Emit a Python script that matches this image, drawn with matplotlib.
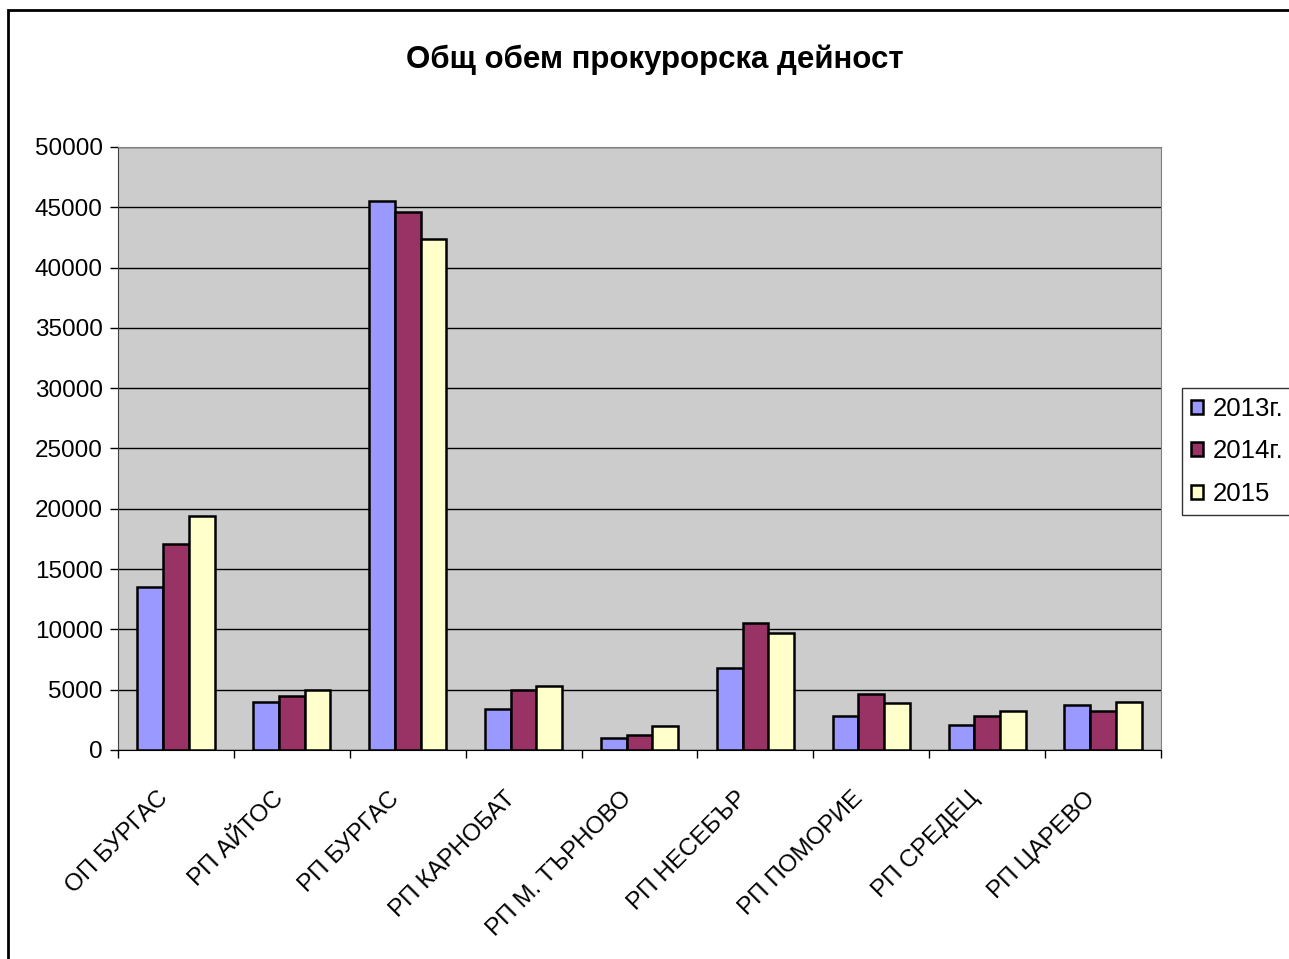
import numpy as np
import matplotlib
matplotlib.use('Agg')
import matplotlib.pyplot as plt
from matplotlib import rcParams
from matplotlib.patches import Rectangle

rcParams['font.family'] = ['Liberation Sans', 'DejaVu Sans']

# Данни
categories = ['ОП БУРГАС', 'РП АЙТОС', 'РП БУРГАС', 'РП КАРНОБАТ', 'РП М. ТЪРНОВО',
              'РП НЕСЕБЪР', 'РП ПОМОРИЕ', 'РП СРЕДЕЦ', 'РП ЦАРЕВО']
series_names = ['2013г.', '2014г.', '2015']
values_2013 = [13520, 4000, 45500, 3390, 970, 6790, 2840, 2070, 3690]
values_2014 = [17080, 4440, 44640, 5000, 1270, 10490, 4660, 2840, 3200]
values_2015 = [19400, 4970, 42400, 5330, 1960, 9720, 3860, 3200, 4000]
colors = ['#9999FF', '#993366', '#FFFFCC']

fig = plt.figure(figsize=(12.89, 9.59), dpi=100)
ax = fig.add_axes([118 / 1289, 1 - 750 / 959, (1161 - 118) / 1289, (750 - 147) / 959])
ax.set_facecolor('#CCCCCC')

x = np.arange(len(categories))
w = 0.222
for i, (vals, name) in enumerate(zip([values_2013, values_2014, values_2015], series_names)):
    ax.bar(x + (i - 1) * w, vals, width=w, color=colors[i], edgecolor='black',
           linewidth=1.8, label=name, zorder=3)

ax.set_xlim(-0.5, len(categories) - 0.5)
ax.set_ylim(0, 50000)
ax.set_yticks(np.arange(0, 50001, 5000))
ax.yaxis.grid(True, color='black', linewidth=1.0, zorder=1)
ax.set_axisbelow(True)

# отметки по оста X между категориите
ax.set_xticks(np.arange(-0.5, len(categories), 1.0))
ax.set_xticklabels([])
ax.tick_params(axis='x', length=6, width=1, color='black')
ax.tick_params(axis='y', length=6, width=1, labelsize=17.5, pad=5)
for xi, lab in zip(x, categories):
    ax.text(xi - 0.1, -0.075, lab, transform=ax.get_xaxis_transform(),
            rotation=45, rotation_mode='anchor', ha='right', va='center', fontsize=17.5)

for side in ['top', 'right']:
    ax.spines[side].set_color('#808080')
ax.spines['left'].set_color('#404040')
ax.spines['bottom'].set_color('black')

fig.text(655 / 1289, 1 - 60 / 959, 'Общ обем прокурорска дейност', ha='center', va='center',
         fontsize=22.5, fontweight='bold')

leg = ax.legend(loc='upper left', bbox_to_anchor=(1182 / 1289, 1 - 388 / 959),
                bbox_transform=fig.transFigure, fontsize=18.5, frameon=True, fancybox=False,
                edgecolor='black', handlelength=0.45, handleheight=0.45, handletextpad=0.4,
                borderpad=0.35, labelspacing=0.72, borderaxespad=0)
leg.get_frame().set_linewidth(1.0)

# рамка около графиката
fig.patches.append(Rectangle((8 / 1289, -0.1), 1.2, 1 - 10 / 959 + 0.1, transform=fig.transFigure,
                             fill=False, edgecolor='black', linewidth=2, clip_on=False))

plt.savefig('out.png', dpi=100)
